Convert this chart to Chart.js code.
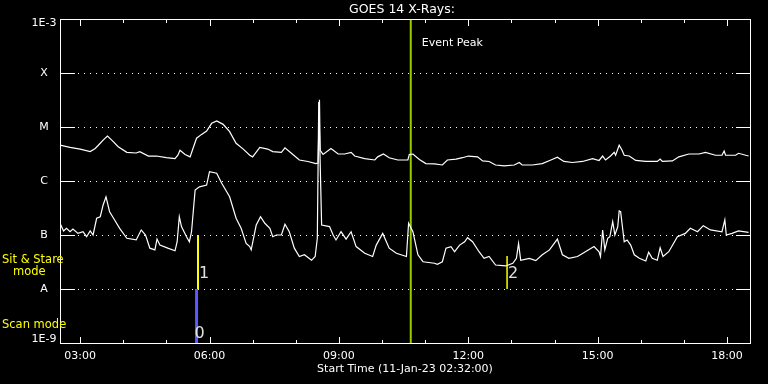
<!DOCTYPE html>
<html><head><meta charset="utf-8">
<script src="https://cdn.jsdelivr.net/npm/chart.js@4"></script>
<style>html,body{margin:0;padding:0;background:#000;}canvas{display:block;}</style>
</head><body>
<canvas id="c" width="768" height="384"></canvas>
<script>
const startTime = '02:32';
const endTime = '18:32';
const titleText = 'GOES 14 X-Rays:';
const xAxisTitle = 'Start Time (11-Jan-23 02:32:00)';

// 1-8 A channel (upper curve)
const longTimes = ['02:32','02:46','03:00','03:14','03:21','03:28','03:32','03:38','03:44','03:53',
 '04:05','04:18','04:23','04:35','04:46','05:00','05:12','05:16','05:19','05:26',
 '05:33','05:37','05:42','05:49','05:56','06:03','06:10','06:19','06:28','06:37',
 '06:47','06:56','07:00','07:10','07:21','07:28','07:40','07:45','07:56','08:05',
 '08:17','08:28','08:31','08:33','08:34','08:38','08:49','08:59','09:08','09:17',
 '09:22','09:36','09:50','09:54','10:02','10:10','10:22','10:36','10:38','10:43',
 '10:52','11:01','11:13','11:24','11:31','11:43','11:52','12:00','12:13','12:20',
 '12:29','12:38','12:50','13:04','13:11','13:15','13:29','13:43','13:55','14:04',
 '14:13','14:25','14:39','14:53','15:02','15:07','15:11','15:18','15:23','15:25',
 '15:30','15:34','15:37','15:44','15:53','16:07','16:23','16:27','16:30','16:44',
 '16:53','17:07','17:21','17:30','17:44','17:53','17:56','17:58','18:12','18:16','18:30'];
const longFlux = [4.6e-6,4.2e-6,3.9e-6,3.5e-6,4.0e-6,5.0e-6,5.7e-6,6.8e-6,5.7e-6,4.3e-6,
 3.4e-6,3.3e-6,3.5e-6,2.9e-6,2.9e-6,2.7e-6,2.6e-6,3.0e-6,3.7e-6,3.1e-6,
 2.8e-6,4.0e-6,6.2e-6,7.3e-6,8.4e-6,1.17e-5,1.29e-5,1.12e-5,8.2e-6,5.0e-6,
 3.9e-6,3.0e-6,2.8e-6,4.2e-6,3.9e-6,3.5e-6,3.4e-6,4.1e-6,3.1e-6,2.45e-6,
 2.3e-6,2.1e-6,2.15e-6,3.2e-5,3.7e-6,3.1e-6,4.0e-6,3.16e-6,3.16e-6,3.4e-6,
 2.9e-6,2.6e-6,2.45e-6,2.8e-6,3.16e-6,2.7e-6,2.45e-6,2.45e-6,3.1e-6,3.16e-6,
 2.5e-6,2.1e-6,2.07e-6,1.98e-6,2.45e-6,2.55e-6,2.7e-6,2.9e-6,2.8e-6,2.35e-6,
 2.3e-6,1.98e-6,1.9e-6,1.98e-6,2.2e-6,1.98e-6,1.98e-6,2.1e-6,2.45e-6,2.75e-6,
 2.3e-6,2.2e-6,2.3e-6,2.6e-6,2.4e-6,2.9e-6,2.45e-6,2.9e-6,3.4e-6,3.0e-6,
 4.6e-6,3.7e-6,3.0e-6,2.9e-6,2.4e-6,2.3e-6,2.3e-6,2.55e-6,2.3e-6,2.35e-6,
 2.8e-6,3.16e-6,3.16e-6,3.4e-6,3.0e-6,3.0e-6,3.6e-6,3.0e-6,3.0e-6,3.26e-6,2.9e-6];

// 0.5-4 A channel (lower curve)
const shortTimes = ['02:32','02:37','02:41','02:46','02:50','02:57','03:04','03:09','03:14','03:18',
 '03:23','03:28','03:32','03:36','03:41','03:48','03:55','04:05','04:18','04:25',
 '04:31','04:37','04:44','04:47','04:51','05:02','05:12','05:15','05:18','05:21',
 '05:28','05:32','05:35','05:40','05:46','05:56','06:00','06:10','06:17','06:28',
 '06:37','06:44','06:51','06:56','06:58','07:05','07:11','07:17','07:24','07:28',
 '07:33','07:40','07:45','07:51','07:58','08:05','08:12','08:22','08:27','08:30',
 '08:32','08:36','08:47','08:52','08:56','09:03','09:10','09:17','09:24','09:36',
 '09:47','09:52','10:01','10:10','10:20','10:34','10:37','10:43','10:50','10:57',
 '11:13','11:17','11:24','11:29','11:36','11:41','11:48','11:55','11:59','12:06',
 '12:15','12:22','12:29','12:38','12:52','13:02','13:07','13:10','13:13','13:25',
 '13:34','13:43','13:53','14:04','14:11','14:20','14:32','14:43','14:55','15:02',
 '15:04','15:07','15:10','15:14','15:17','15:21','15:24','15:28','15:30','15:32',
 '15:37','15:41','15:46','15:51','15:58','16:07','16:11','16:16','16:23','16:27',
 '16:31','16:39','16:51','17:02','17:09','17:19','17:27','17:37','17:53','17:57',
 '17:59','18:07','18:16','18:30'];
const shortFlux = [1.65e-7,1.19e-7,1.33e-7,1.15e-7,1.29e-7,1.07e-7,1.15e-7,9.3e-8,1.19e-7,1.0e-7,
 2.04e-7,2.18e-7,3.6e-7,5.1e-7,2.7e-7,1.9e-7,1.33e-7,8.7e-8,8.1e-8,1.24e-7,
 1.0e-7,5.7e-8,5.3e-8,8.4e-8,6.5e-8,5.7e-8,5.1e-8,7.5e-8,2.18e-7,1.43e-7,
 9.3e-8,7.5e-8,1.15e-7,6.8e-7,7.8e-7,8.4e-7,1.49e-6,1.39e-6,9.1e-7,5.1e-7,
 2.04e-7,1.33e-7,7.0e-8,6.1e-8,5.3e-8,1.53e-7,2.18e-7,1.65e-7,1.33e-7,9.3e-8,
 1.0e-7,1.0e-7,1.58e-7,1.15e-7,5.7e-8,4.0e-8,4.3e-8,3.4e-8,4.0e-8,8.7e-8,
 2.9e-5,1.53e-7,1.43e-7,1.0e-7,8.1e-8,1.15e-7,8.4e-8,1.15e-7,6.1e-8,4.6e-8,
 4.0e-8,6.5e-8,1.07e-7,5.7e-8,4.6e-8,4.0e-8,1.65e-7,1.15e-7,4.3e-8,3.2e-8,
 3.0e-8,2.86e-8,3.2e-8,5.7e-8,6.1e-8,4.9e-8,6.5e-8,7.5e-8,8.9e-8,7.5e-8,
 4.9e-8,3.7e-8,4.0e-8,2.78e-8,2.67e-8,3.0e-8,3.7e-8,7.0e-8,3.4e-8,3.7e-8,
 3.35e-8,4.3e-8,5.3e-8,8.4e-8,4.3e-8,3.7e-8,4.0e-8,4.9e-8,6.1e-8,4.9e-8,
 4.0e-8,1.24e-7,5.3e-8,8.7e-8,9.3e-8,1.76e-7,1.0e-7,1.43e-7,2.78e-7,2.7e-7,
 7.5e-8,8.1e-8,6.5e-8,4.3e-8,3.7e-8,3.3e-8,4.8e-8,3.7e-8,3.4e-8,5.8e-8,
 4.0e-8,4.9e-8,9.3e-8,1.07e-7,1.33e-7,1.15e-7,1.49e-7,1.24e-7,1.15e-7,1.9e-7,
 1.0e-7,1.07e-7,1.19e-7,1.12e-7];

const yTickValues = [1e-9,1e-8,1e-7,1e-6,1e-5,1e-4,1e-3];
const yTickLabels = ['1E-9','A','B','C','M','X','1E-3'];
const xTickLabels = ['03:00','06:00','09:00','12:00','15:00','18:00'];
const xMinorTicks = ['03:00','04:00','05:00','06:00','07:00','08:00','09:00','10:00','11:00','12:00','13:00','14:00','15:00','16:00','17:00','18:00'];

const peakTime = '10:40';
const peakLabel = 'Event Peak';
const scanTime = '05:42';
const scanLabel = '0';
const stareTimes = ['05:44','12:54'];
const stareLabels = ['1','2'];
const stareTops = [1e-7, 4.1e-8];
const modeFloor = 1e-8;
const modeBottom = 1e-9;

function hrs(s){ const p = s.split(':'); return +p[0] + (+p[1])/60; }
function pts(times, vals){ return times.map((t,i)=>({x:hrs(t), y:vals[i]})); }

const FONT = "'DejaVu Sans', sans-serif";

const decor = {
  id: 'decor',
  beforeDatasetsDraw(chart){
    const ctx = chart.ctx, a = chart.chartArea, ys = chart.scales.y;
    ctx.save();
    ctx.fillStyle = '#fff';
    yTickValues.forEach((v,i)=>{
      if (i===0 || i===yTickValues.length-1) return;
      const y = Math.round(ys.getPixelForValue(v));
      for (let x = a.left + 18; x <= a.right - 17; x += 6) ctx.fillRect(x, y, 1, 1);
    });
    ctx.restore();
  },
  afterDatasetsDraw(chart){
    const ctx = chart.ctx, a = chart.chartArea, xs = chart.scales.x, ys = chart.scales.y;
    const L = Math.round(a.left), R = Math.round(a.right), T = Math.round(a.top), B = Math.round(a.bottom);
    ctx.save();
    ctx.fillStyle = '#fff';
    // frame
    ctx.fillRect(L, T, R-L+1, 1);
    ctx.fillRect(L, B, R-L+1, 1);
    ctx.fillRect(L, T, 1, B-T+1);
    ctx.fillRect(R, T, 1, B-T+1);
    // y major ticks
    yTickValues.forEach(v=>{
      const y = Math.round(ys.getPixelForValue(v));
      ctx.fillRect(L, y, 15, 1);
      ctx.fillRect(R-14, y, 15, 1);
    });
    // x ticks
    xMinorTicks.forEach(t=>{
      const h = hrs(t);
      const x = Math.round(xs.getPixelForValue(h));
      const major = xTickLabels.indexOf(t) >= 0;
      const len = major ? 6 : 3;
      ctx.fillRect(x, B-len, 1, len);
      ctx.fillRect(x, T+1, 1, len);
    });
    // title
    ctx.font = '12.5px ' + FONT;
    ctx.textAlign = 'center'; ctx.textBaseline = 'middle';
    ctx.fillText(titleText, 402, 10);
    // y labels
    ctx.font = '11px ' + FONT;
    yTickValues.forEach((v,i)=>{
      let y = ys.getPixelForValue(v);
      if (i===yTickValues.length-1) y = T + 4;
      if (i===0) y = B - 4;
      ctx.fillText(yTickLabels[i], 44, y + 0.5);
    });
    // x labels
    xTickLabels.forEach(t=>{
      ctx.fillText(t, xs.getPixelForValue(hrs(t)), 356);
    });
    ctx.fillText(xAxisTitle, 405, 369);
    // event peak label
    ctx.textAlign = 'left';
    ctx.fillText(peakLabel, xs.getPixelForValue(hrs(peakTime)) + 11, 43);
    // mode labels (yellow)
    ctx.fillStyle = '#ffff00';
    ctx.textBaseline = 'alphabetic';
    ctx.font = '11.5px ' + FONT;
    ctx.fillText('Sit & Stare', 2, 263);
    ctx.fillText('mode', 13, 275);
    ctx.fillText('Scan mode', 2, 328);
    // marker digits
    ctx.fillStyle = '#e0e0e0';
    ctx.font = '16px ' + FONT;
    stareTimes.forEach((t,i)=>{
      ctx.fillText(stareLabels[i], xs.getPixelForValue(hrs(t)) + 1, 278);
    });
    ctx.fillText(scanLabel, xs.getPixelForValue(hrs(scanTime)) - 2, 338);
    ctx.restore();
  }
};

const lineDs = (data, color, width) => ({
  data, borderColor: color, backgroundColor: color, borderWidth: width,
  pointRadius: 0, tension: 0, fill: false
});

const datasets = [
  lineDs(pts(longTimes, longFlux), '#ffffff', 1.2),
  lineDs(pts(shortTimes, shortFlux), '#ffffff', 1.2),
  lineDs([{x:hrs(peakTime), y:modeBottom}, {x:hrs(peakTime), y:1e-3}], '#99cc00', 2),
  lineDs([{x:hrs(scanTime), y:modeBottom}, {x:hrs(scanTime), y:modeFloor}], '#5a5aff', 3),
];
stareTimes.forEach((t,i)=>{
  datasets.push(lineDs([{x:hrs(t), y:modeFloor}, {x:hrs(t), y:stareTops[i]}], '#ffff00', i===0 ? 2 : 1.5));
});

new Chart(document.getElementById('c'), {
  type: 'line',
  data: { datasets },
  options: {
    responsive: false,
    animation: false,
    devicePixelRatio: 1,
    layout: { padding: { left: 60, right: 18, top: 19, bottom: 41 } },
    plugins: { legend: { display: false }, tooltip: { enabled: false } },
    scales: {
      x: { type: 'linear', display: false, min: hrs(startTime), max: hrs(endTime) },
      y: { type: 'logarithmic', display: false, min: 1e-9, max: 1e-3 }
    }
  },
  plugins: [decor]
});
</script>
</body></html>
